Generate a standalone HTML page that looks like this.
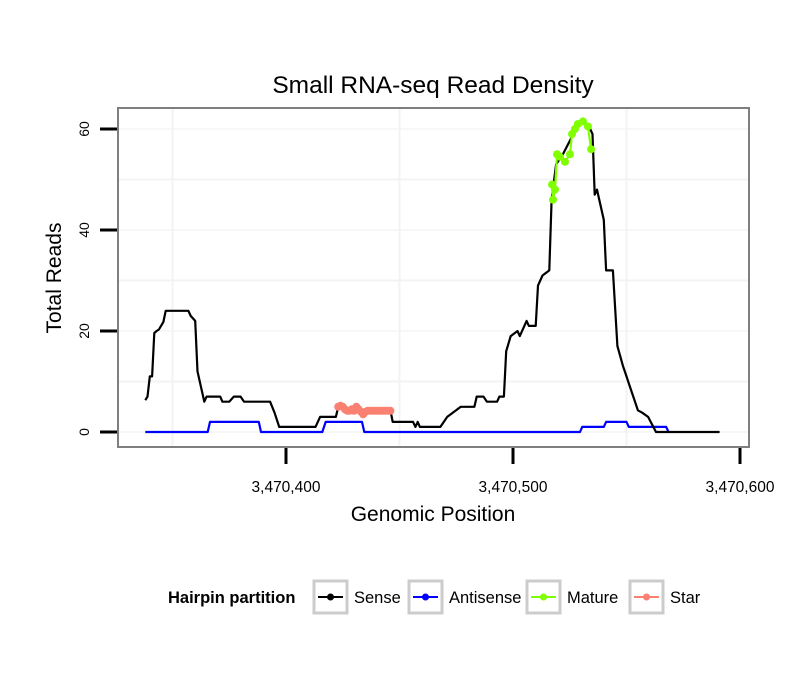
<!DOCTYPE html>
<html><head><meta charset="utf-8"><style>
body{margin:0;background:#fff;}
svg text{font-family:"Liberation Sans",sans-serif;}
</style></head><body>
<svg id="chart" width="810" height="690" xmlns="http://www.w3.org/2000/svg">
<rect width="810" height="690" fill="#fff"/>
<text x="433" y="93" text-anchor="middle" font-size="24.5">Small RNA-seq Read Density</text>
<g id="grid"></g>
<g id="series"></g>
<rect x="118" y="108" width="631" height="339" fill="none" stroke="#7f7f7f" stroke-width="2"/>
<g id="axes"></g>
<text x="433" y="521" text-anchor="middle" font-size="21">Genomic Position</text>
<text transform="translate(61,278) rotate(-90)" text-anchor="middle" font-size="21">Total Reads</text>
<g>
<text x="168" y="603" font-size="16.5" font-weight="bold">Hairpin partition</text>
<g><rect x="314" y="581" width="33" height="32" fill="none" stroke="#ccc" stroke-width="3"/><line x1="318" x2="343" y1="597" y2="597" stroke="#000" stroke-width="2"/><circle cx="330.5" cy="597" r="3.5" fill="#000"/><text x="354" y="603" font-size="16.5">Sense</text></g>
<g><rect x="409" y="581" width="33" height="32" fill="none" stroke="#ccc" stroke-width="3"/><line x1="413" x2="438" y1="597" y2="597" stroke="#00f" stroke-width="2"/><circle cx="425.5" cy="597" r="3.5" fill="#00f"/><text x="449" y="603" font-size="16.5">Antisense</text></g>
<g><rect x="527" y="581" width="33" height="32" fill="none" stroke="#ccc" stroke-width="3"/><line x1="531" x2="556" y1="597" y2="597" stroke="#7fff00" stroke-width="2"/><circle cx="543.5" cy="597" r="3.5" fill="#7fff00"/><text x="567" y="603" font-size="16.5">Mature</text></g>
<g><rect x="630" y="581" width="33" height="32" fill="none" stroke="#ccc" stroke-width="3"/><line x1="634" x2="659" y1="597" y2="597" stroke="#fa8072" stroke-width="2"/><circle cx="646.5" cy="597" r="3.5" fill="#fa8072"/><text x="670" y="603" font-size="16.5">Star</text></g>
</g>
</svg>
<script>
const xTicks=[3470400,3470500,3470600];
const xTickLabels=["3,470,400","3,470,500","3,470,600"];
const yTicks=[0,20,40,60];
const yTickLabels=["0","20","40","60"];
const sensePos=[3470338,3470339,3470340,3470341,3470342,3470343,3470344,3470346,3470347,3470357,3470358,3470360,3470361,3470364,3470365,3470371,3470372,3470375,3470377,3470380,3470381.5,3470393,3470395,3470397,3470413,3470415,3470422,3470423,3470425,3470427,3470429,3470431,3470433,3470435,3470437,3470439,3470441,3470446,3470447,3470456,3470457,3470458,3470459,3470468,3470471,3470477,3470483,3470484,3470487,3470488.5,3470493,3470494,3470496,3470497,3470499,3470502,3470503,3470506,3470507,3470510,3470511,3470513,3470516,3470517,3470519,3470522,3470526,3470529,3470533,3470535,3470536,3470537,3470540,3470541,3470544,3470546,3470548.5,3470550,3470551.5,3470555,3470557,3470559.5,3470563,3470591];
const senseVal=[6.3,7,11,11,19.6,20,20.3,21.8,24,24,23,22,12,6,7,7,6,6,7,7,6,6,3.8,1,1,3,3,5,5,4.3,4.3,5,4.5,3.8,4.3,4.3,4.3,4.3,2,2,1,2,1,1,3,5,5,7,7,6,6,7,7,16,19,20,19,22,21,21,29,31,32,46,53,55,58.5,61,61,59,47,48,42,32,32,17,13,11,9,4.3,3.8,3,0,0];
const antiPos=[3470338,3470365.5,3470366.5,3470388,3470389,3470416,3470417.5,3470433.5,3470434.5,3470529.5,3470530.5,3470540,3470541,3470550,3470551,3470567.5,3470568.5];
const antiVal=[0,0,2,2,0,0,2,2,0,0,1,1,2,2,1,1,0];
const maturePos=[3470517.2,3470518.5,3470517.6,3470519.4,3470520.7,3470522.9,3470525.1,3470526,3470527.3,3470528.6,3470530.8,3470533,3470534.4];
const matureVal=[49,48,46,55,54.5,53.5,55,59,60,61,61.5,60.5,56];
const starPos=[3470423,3470424,3470425,3470426,3470427,3470428,3470429,3470430,3470431,3470432,3470433,3470434,3470435,3470436,3470437,3470438,3470439,3470440,3470441,3470442,3470443,3470444,3470445,3470446];
const starVal=[5,5.2,5,4.5,4.2,4.2,4.5,4.2,5,4.5,4,3.5,4,4.2,4.2,4.2,4.2,4.2,4.2,4.2,4.2,4.2,4.2,4.2];

const NS="http://www.w3.org/2000/svg";
function xs(v){return 286+(v-3470400)*2.27;}
function ys(v){return 432-v*5.05;}
function mk(tag,attrs,parent){const e=document.createElementNS(NS,tag);for(const k in attrs)e.setAttribute(k,attrs[k]);parent.appendChild(e);return e;}
const grid=document.getElementById('grid'),axes=document.getElementById('axes'),series=document.getElementById('series');
[10,30,50].forEach(v=>{const l=mk('line',{x1:118,x2:749,y1:ys(v),y2:ys(v),stroke:'#f3f3f3','stroke-width':2},grid);

});
yTicks.forEach(v=>{const l=mk('line',{x1:118,x2:749,y1:ys(v),y2:ys(v),stroke:'#f7f7f7','stroke-width':2},grid);

});
[3470350,3470450,3470550].forEach(v=>{const l=mk('line',{x1:xs(v),x2:xs(v),y1:108,y2:447,stroke:'#f3f3f3','stroke-width':2},grid);

});
yTicks.forEach((v,i)=>{const t=mk('line',{x1:100,x2:117,y1:ys(v),y2:ys(v),stroke:'#000','stroke-width':3},axes);


const tx=mk('text',{transform:`translate(89,${ys(v)}) rotate(-90)`,'text-anchor':'middle','font-size':14},axes);tx.textContent=yTickLabels[i];

});
xTicks.forEach((v,i)=>{const t=mk('line',{x1:xs(v),x2:xs(v),y1:448,y2:464,stroke:'#000','stroke-width':3},axes);


const tx=mk('text',{x:xs(v),y:492,'text-anchor':'middle','font-size':15.5},axes);tx.textContent=xTickLabels[i];

});
function line(P,V,col,name){const d=P.map((p,i)=>(i?'L':'M')+xs(p).toFixed(1)+','+ys(V[i]).toFixed(1)).join('');
const e=mk('path',{d:d,fill:'none',stroke:col,'stroke-width':2.2,'stroke-linejoin':'round'},series);

}
line(antiPos,antiVal,'#0000ff','antisense-line');
line(sensePos,senseVal,'#000','sense-line');
line(starPos,starVal,'#fa8072','star-line');
line(maturePos.slice().sort((a,b)=>a-b),maturePos.map((p,i)=>[p,matureVal[i]]).sort((a,b)=>a[0]-b[0]).map(a=>a[1]),'#7fff00','mature-line');
function pts(P,V,col,name){P.forEach((p,i)=>{const c=mk('circle',{cx:xs(p),cy:ys(V[i]),r:4,fill:col},series);

});}
pts(starPos,starVal,'#fa8072','star-point');
pts(maturePos,matureVal,'#7fff00','mature-point');
</script>
</body></html>
